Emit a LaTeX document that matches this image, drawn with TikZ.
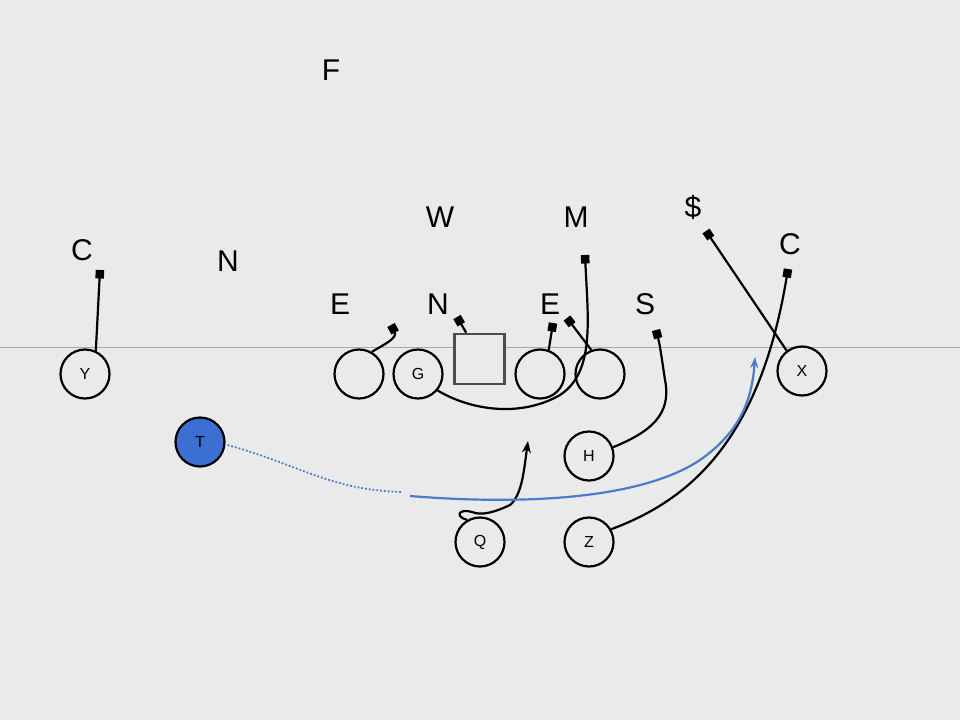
\documentclass[tikz,border=0pt]{standalone}
\usepackage{fontspec}
\setmainfont{Liberation Sans}
\usetikzlibrary{arrows.meta}
\definecolor{bg}{HTML}{EAEAEA}
\definecolor{los}{HTML}{A8A8A8}
\definecolor{tblue}{HTML}{3B6FD2}
\definecolor{rblue}{HTML}{4A7CC8}
\tikzset{
  player/.style={circle,draw=black,line width=2.2pt,minimum size=49pt,inner sep=0pt,font=\fontsize{16}{16}\selectfont},
  defender/.style={font=\fontsize{30}{30}\selectfont,inner sep=0pt},
  block/.style={line width=2.2pt,-{Square[length=8.5pt,width=8.5pt]}},
  route/.style={line width=2.2pt,-{Stealth[length=12pt,width=9pt]}},
}
\begin{document}
\begin{tikzpicture}[x=1pt,y=-1pt]
\fill[bg] (0,0) rectangle (960,720);
\useasboundingbox (0,0) rectangle (960,720);
\draw[los,line width=0.8pt] (0,347) -- (960,347);

% offense
\node[player] (Y) at (85,374) {Y};
\node[player,fill=tblue] (T) at (200,442) {T};
\node[player] (LT) at (359,374) {};
\node[player] (G) at (418,374) {G};
\node[draw=black!70,line width=2.6pt,minimum size=50pt,inner sep=0pt,fill=bg] (CC) at (479.5,359) {};
\node[player] (RG) at (540,374) {};
\node[player] (RT) at (600,374) {};
\node[player] (H) at (589,456) {H};
\node[player] (Q) at (480,542) {Q};
\node[player] (Z) at (589,542) {Z};
\node[player] (X) at (802,371) {X};

% defense
\node[defender] (F) at (331,70) {F};
\node[defender] (W) at (440,217) {W};
\node[defender] (M) at (576,217) {M};
\node[defender] (DS) at (693,207) {\$};
\node[defender] (C2) at (790,244) {C};
\node[defender] (C1) at (82,250) {C};
\node[defender] (N1) at (228,261) {N};
\node[defender] (E1) at (340,304) {E};
\node[defender] (N2) at (438,304) {N};
\node[defender] (E2) at (550,304) {E};
\node[defender] (S) at (645,304) {S};

% block ends
\coordinate (yb) at (100,270);
\coordinate (ltb) at (391,325);
\coordinate (ccb) at (457,317);
\coordinate (rgb) at (553,323);
\coordinate (rtb) at (567,318);
\coordinate (gb) at (585,255);
\coordinate (hb) at (656,330);
\coordinate (xb) at (706,231);
\coordinate (zb) at (788,269);
\coordinate (qa) at (528,441);
\coordinate (ta) at (755,357);
\coordinate (tm) at (402,492);

% blocks
\draw[block] (Y.65) -- (yb);
\draw[block] (LT.60) .. controls (385,344) and (398,338) .. (ltb);
\draw[block] (CC.north west) ++(13,0) -- (ccb);
\draw[block] (RG.70) -- (rgb);
\draw[block] (RT.110) -- (rtb);
\draw[block] (G.-40) .. controls (470,410) and (520,418) .. (560,395)
   .. controls (595,372) and (588,320) .. (gb);
\draw[block] (H.20) .. controls (650,432) and (672,415) .. (665,380)
   .. controls (662,360) and (660,345) .. (hb);
\draw[block] (X.127) -- (xb);
\draw[block] (Z.30) .. controls (690,500) and (760,440) .. (zb);

% routes
\draw[route] (Q.120) .. controls (455,517) and (458,508) .. (472,512)
   .. controls (482,516) and (495,512) .. (510,505)
   .. controls (522,495) and (524,470) .. (qa);
\draw[rblue,line width=1.8pt,dotted] (T.east) ++(2,3) .. controls (300,465) and (330,490) .. (tm);
\draw[rblue,line width=2.2pt,-{Stealth[length=11pt,width=8pt]}] (410,496)
   .. controls (520,505) and (640,500) .. (700,460)
   .. controls (740,432) and (752,400) .. (ta);
\end{tikzpicture}
\end{document}
